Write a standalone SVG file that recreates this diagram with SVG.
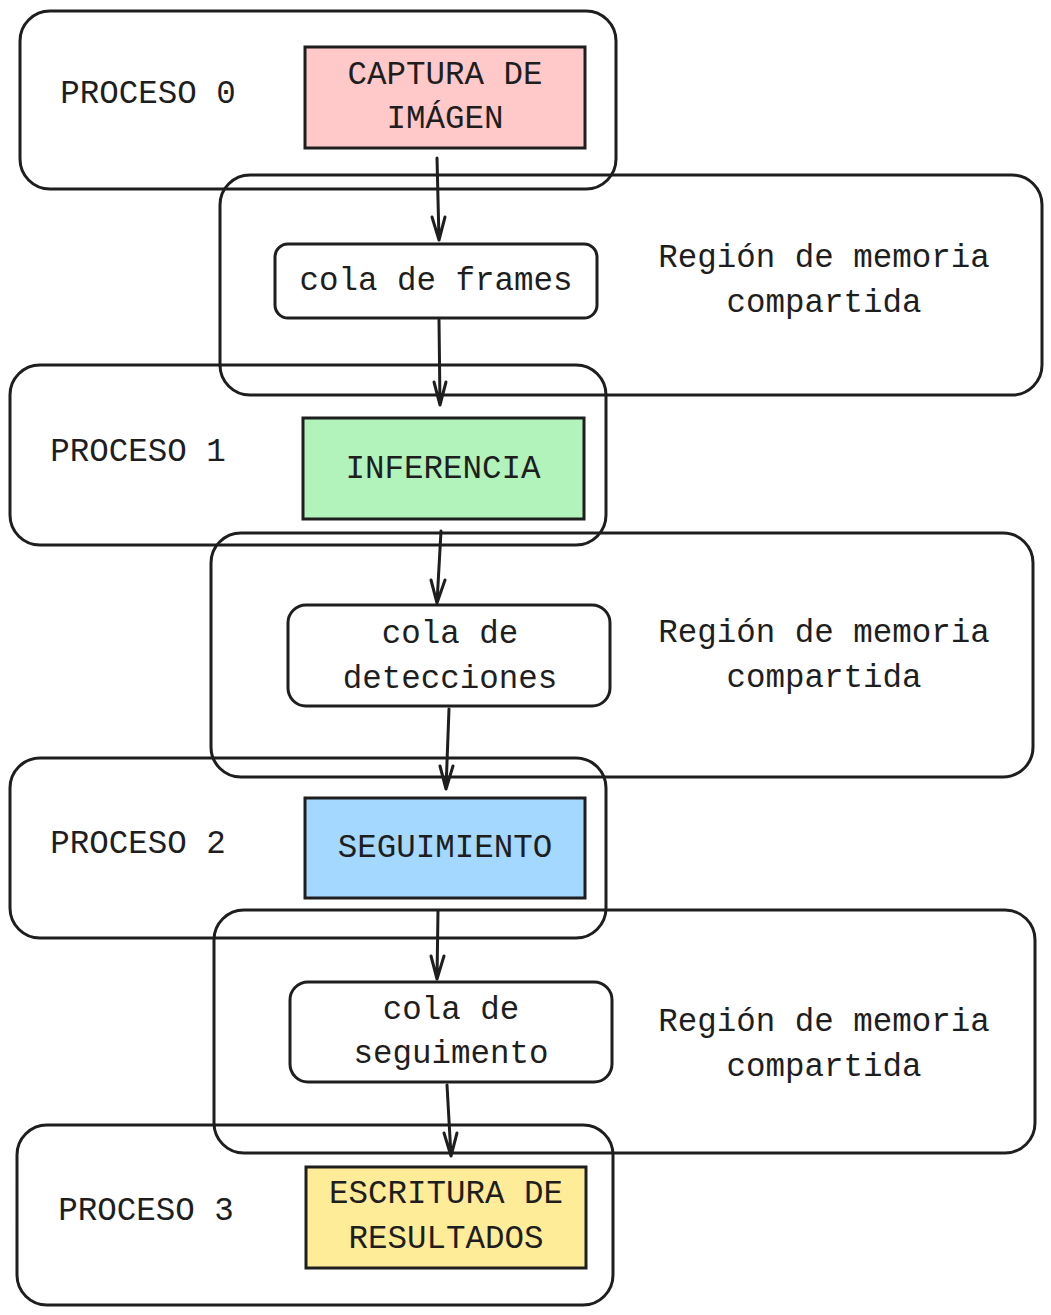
<svg xmlns="http://www.w3.org/2000/svg" width="1051" height="1315" viewBox="0 0 1051 1315">
<style>
.c{fill:none;stroke:#1e1e1e;stroke-width:3;stroke-linejoin:round}
.b{stroke:#1e1e1e;stroke-width:3}
.q{fill:#fff;stroke:#1e1e1e;stroke-width:3}
.t{font-family:"Liberation Mono","DejaVu Sans Mono",monospace;font-size:32.5px;fill:#1e1e1e;text-anchor:middle}
.a{fill:none;stroke:#1e1e1e;stroke-width:3;stroke-linecap:round;stroke-linejoin:round}
</style>
<rect width="1051" height="1315" fill="#fff"/>
<g id="proceso0">
<rect class="c" x="20" y="11" width="596" height="178" rx="30"/>
<text class="t" x="148" y="103">PROCESO 0</text>
</g>
<g id="captura">
<rect class="b" x="305" y="47" width="280" height="101" fill="#ffc9c9"/>
<text class="t" x="445" y="84">CAPTURA DE</text>
<text class="t" x="445" y="128">IMÁGEN</text>
</g>
<g id="region1">
<rect class="c" x="220" y="175" width="822" height="220" rx="30"/>
<text class="t" x="824" y="267">Región de memoria</text>
<text class="t" x="824" y="312">compartida</text>
</g>
<g id="colaFrames">
<rect class="q" x="275" y="244" width="322" height="74" rx="13"/>
<text class="t" x="436" y="290">cola de frames</text>
</g>
<g id="proceso1">
<rect class="c" x="10" y="365" width="596" height="180" rx="30"/>
<text class="t" x="138" y="461">PROCESO 1</text>
</g>
<g id="inferencia">
<rect class="b" x="303" y="418" width="281" height="101" fill="#b2f2bb"/>
<text class="t" x="443" y="478">INFERENCIA</text>
</g>
<g id="region2">
<rect class="c" x="211" y="533" width="822" height="244" rx="30"/>
<text class="t" x="824" y="642">Región de memoria</text>
<text class="t" x="824" y="687">compartida</text>
</g>
<g id="colaDetecciones">
<rect class="q" x="288" y="605" width="322" height="101" rx="18"/>
<text class="t" x="450" y="643">cola de</text>
<text class="t" x="450" y="688">detecciones</text>
</g>
<g id="proceso2">
<rect class="c" x="10" y="758" width="596" height="180" rx="30"/>
<text class="t" x="138" y="853">PROCESO 2</text>
</g>
<g id="seguimiento">
<rect class="b" x="305" y="798" width="280" height="100" fill="#a5d8ff"/>
<text class="t" x="445" y="857">SEGUIMIENTO</text>
</g>
<g id="region3">
<rect class="c" x="214" y="910" width="821" height="243" rx="30"/>
<text class="t" x="824" y="1031">Región de memoria</text>
<text class="t" x="824" y="1076">compartida</text>
</g>
<g id="colaSeguimento">
<rect class="q" x="290" y="982" width="322" height="100" rx="18"/>
<text class="t" x="451" y="1019">cola de</text>
<text class="t" x="451" y="1063">seguimento</text>
</g>
<g id="proceso3">
<rect class="c" x="17" y="1125" width="596" height="180" rx="30"/>
<text class="t" x="146" y="1220">PROCESO 3</text>
</g>
<g id="escritura">
<rect class="b" x="306" y="1167" width="280" height="101" fill="#ffec99"/>
<text class="t" x="446" y="1203">ESCRITURA DE</text>
<text class="t" x="446" y="1248">RESULTADOS</text>
</g>
<g id="connectors">
<path class="a" d="M437 158 L439 240 M432 217 L439 240 L445 217"/>
<path class="a" d="M439 320 L440 405 M434 382 L440 405 L446 382"/>
<path class="a" d="M441 531 L437 603 M431 580 L437 603 L445 580"/>
<path class="a" d="M449 709 L446 789 M440 766 L446 789 L453 766"/>
<path class="a" d="M438 911 L437 979 M431 956 L437 979 L444 956"/>
<path class="a" d="M447 1085 L451 1156 M444 1133 L451 1156 L457 1133"/>
</g>
</svg>
